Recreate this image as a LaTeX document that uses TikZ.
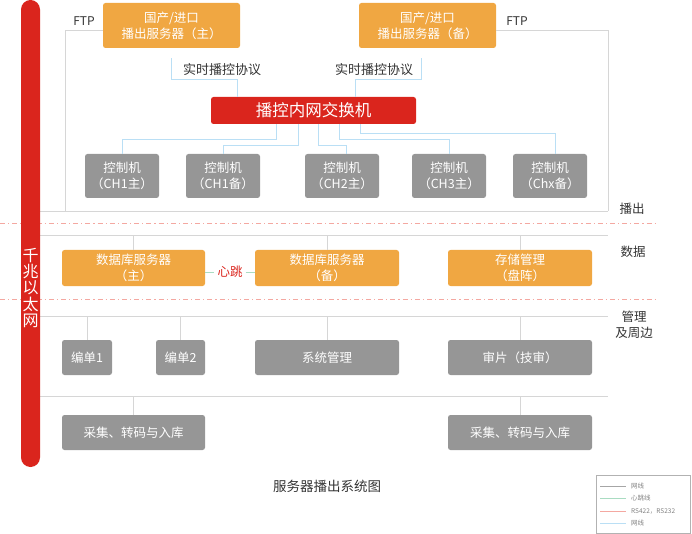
\documentclass[tikz,border=0pt]{standalone}
\usepackage{fontspec}
\setmainfont{Noto Sans CJK SC}
\usetikzlibrary{calc}
\definecolor{cOrange}{HTML}{F0A742}
\definecolor{cRed}{HTML}{DA251D}
\definecolor{cGrayBox}{HTML}{969696}
\definecolor{cLine}{HTML}{D6D6D6}
\definecolor{cBlue}{HTML}{BADFF5}
\definecolor{cGreen}{HTML}{A9DCC2}
\definecolor{cPink}{HTML}{F4A8A1}
\definecolor{cText}{HTML}{333333}
\begin{document}
\begin{tikzpicture}[x=1pt,y=-1pt,
  boxbase/.style={rounded corners=2.5pt, inner sep=0pt, text=white, align=center,
    font=\fontsize{12.5}{16}\selectfont},
  obox/.style={boxbase, fill=cOrange},
  gbox/.style={boxbase, fill=cGrayBox},
  netline/.style={draw=cLine, line width=0.9pt},
  blueline/.style={draw=cBlue, line width=0.9pt},
  lbl/.style={text=cText, inner sep=0pt, font=\fontsize{12.5}{16}\selectfont, align=center},
  pinkdash/.style={draw=cPink, line width=0.7pt, dash pattern=on 5pt off 3pt on 1.2pt off 3pt},
  legtext/.style={text=gray, inner sep=0pt, anchor=west, font=\fontsize{6.5}{8}\selectfont}
]
\useasboundingbox (0,0) rectangle (692,534);

% dashed section separators
\coordinate (d1a) at (0,223); \coordinate (d1b) at (655,223);
\coordinate (d2a) at (0,299); \coordinate (d2b) at (655,299);
\draw[pinkdash] (d1a) -- (d1b);
\draw[pinkdash] (d2a) -- (d2b);

% bus lines
\coordinate (b1L) at (40,211); \coordinate (b1R) at (608,211);
\coordinate (b2L) at (40,235); \coordinate (b2R) at (608,235);
\coordinate (b3L) at (40,316); \coordinate (b3R) at (608,316);
\coordinate (b4L) at (40,396); \coordinate (b4R) at (608,396);
\draw[netline] (b1L) -- (b1R);
\draw[netline] (b2L) -- (b2R);
\draw[netline] (b3L) -- (b3R);
\draw[netline] (b4L) -- (b4R);

% top servers
\node[obox, minimum width=137pt, minimum height=45pt] (top1) at (171.5,25.5) {国产/进口\\播出服务器（主）};
\node[obox, minimum width=137pt, minimum height=45pt] (top2) at (427.5,25.5) {国产/进口\\播出服务器（备）};

% FTP lines
\coordinate (ftpL) at (65,211);
\draw[netline] ($(top1.west)+(0,4.5)$) -| (ftpL);
\draw[netline] ($(top2.east)+(0,4.5)$) -| (b1R);
\node[lbl, font=\fontsize{12}{14}\selectfont] (ftp1) at (84,21) {FTP};
\node[lbl, font=\fontsize{12}{14}\selectfont] (ftp2) at (517,21) {FTP};

% switch
\node[boxbase, fill=cRed, minimum width=205pt, minimum height=27pt, font=\fontsize{16.5}{18}\selectfont] (sw) at (313.5,110.5) {播控内网交换机};

% protocol lines
\draw[blueline] ($(top1.south)+(0,10)$) -- ++(0,21) -| ($(sw.north)+(-76.5,0)$);
\draw[blueline] ($(top2.south)+(-6.5,10)$) -- ++(0,21) -| ($(sw.north)+(41.5,0)$);
\node[lbl, font=\fontsize{13}{15}\selectfont] (p1) at (222,70) {实时播控协议};
\node[lbl, font=\fontsize{13}{15}\selectfont] (p2) at (374,70) {实时播控协议};

% controllers
\node[gbox, minimum width=74pt, minimum height=44pt] (c1) at (122,176) {控制机\\（CH1主）};
\node[gbox, minimum width=74pt, minimum height=44pt] (c2) at (223,176) {控制机\\（CH1备）};
\node[gbox, minimum width=74pt, minimum height=44pt] (c3) at (342,176) {控制机\\（CH2主）};
\node[gbox, minimum width=74pt, minimum height=44pt] (c4) at (449,176) {控制机\\（CH3主）};
\node[gbox, minimum width=74pt, minimum height=44pt] (c5) at (550,176) {控制机\\（Chx备）};

\draw[blueline] ($(sw.south)+(-37.5,0)$) -- ++(0,15) -| (c1.north);
\draw[blueline] ($(sw.south)+(-15.5,0)$) -- ++(0,21) -| (c2.north);
\draw[blueline] ($(sw.south)+(4.5,0)$) -- ++(0,21) -| ($(c3.north)+(4,0)$);
\draw[blueline] ($(sw.south)+(25.5,0)$) -- ++(0,15) -| (c4.north);
\draw[blueline] ($(sw.south)+(46.5,0)$) -- ++(0,9) -| ($(c5.north)+(5,0)$);

% data row
\node[obox, minimum width=143pt, minimum height=36pt] (db1) at (133.5,268) {数据库服务器\\（主）};
\node[obox, minimum width=144pt, minimum height=36pt] (db2) at (327,268) {数据库服务器\\（备）};
\node[obox, minimum width=144pt, minimum height=36pt] (st) at (520,268) {存储管理\\（盘阵）};
\draw[netline] (db1.north) -- (db1.north |- b2L);
\draw[netline] (db2.north) -- (db2.north |- b2L);
\draw[netline] (st.north) -- (st.north |- b2L);

\node[inner sep=0pt, text=cRed, font=\fontsize{12.5}{15}\selectfont] (hb) at (230,272) {心跳};
\draw[draw=cGreen, line width=0.9pt] ($(db1.east)+(0,4)$) -- ($(hb.west)+(-3,0)$);
\draw[draw=cGreen, line width=0.9pt] ($(hb.east)+(3,0)$) -- ($(db2.west)+(0,4)$);

% management row
\node[gbox, minimum width=50pt, minimum height=35pt] (e1) at (87,357.5) {编单1};
\node[gbox, minimum width=49pt, minimum height=35pt] (e2) at (180.5,357.5) {编单2};
\node[gbox, minimum width=144pt, minimum height=35pt] (sys) at (327,357.5) {系统管理};
\node[gbox, minimum width=144pt, minimum height=35pt] (rev) at (520,357.5) {审片（技审）};
\draw[netline] (e1.north) -- (e1.north |- b3L);
\draw[netline] (e2.north) -- (e2.north |- b3L);
\draw[netline] (sys.north) -- (sys.north |- b3L);
\draw[netline] (rev.north) -- (rev.north |- b3L);

% ingest row
\node[gbox, minimum width=143pt, minimum height=35pt] (in1) at (133.5,432.5) {采集、转码与入库};
\node[gbox, minimum width=144pt, minimum height=35pt] (in2) at (520,432.5) {采集、转码与入库};
\draw[netline] (in1.north) -- (in1.north |- b4L);
\draw[netline] (in2.north) -- (in2.north |- b4L);

% side labels
\node[lbl] (s1) at (632,209) {播出};
\node[lbl] (s2) at (633,252) {数据};
\node[lbl, font=\fontsize{12.5}{16.5}\selectfont] (s3) at (634,325) {管理\\及周边};

% red backbone bar
\fill[cRed, rounded corners=9.5pt] (21,0) rectangle (40,467);
\node[inner sep=0pt, text=white, align=center, font=\fontsize{16}{16.2}\selectfont] (eth) at (30.5,288) {千\\兆\\以\\太\\网};

% caption
\node[lbl, font=\fontsize{13.5}{16}\selectfont] (cap) at (327,486) {服务器播出系统图};

% legend
\draw[draw=gray!60, line width=0.6pt] (596,475) rectangle (690,533);
\coordinate (l1a) at (600,486); \coordinate (l1b) at (626,486);
\coordinate (l2a) at (600,498); \coordinate (l2b) at (626,498);
\coordinate (l3a) at (600,511); \coordinate (l3b) at (626,511);
\coordinate (l4a) at (600,523); \coordinate (l4b) at (626,523);
\draw[draw=gray!70, line width=0.6pt] (l1a) -- (l1b);
\draw[draw=cGreen, line width=0.6pt] (l2a) -- (l2b);
\draw[draw=cPink, line width=0.6pt] (l3a) -- (l3b);
\draw[draw=cBlue, line width=0.6pt] (l4a) -- (l4b);
\node[legtext] (t1) at (631,486) {网线};
\node[legtext] (t2) at (631,498) {心跳线};
\node[legtext] (t3) at (631,511) {RS422，RS232};
\node[legtext] (t4) at (631,523) {网线};
\end{tikzpicture}
\end{document}
